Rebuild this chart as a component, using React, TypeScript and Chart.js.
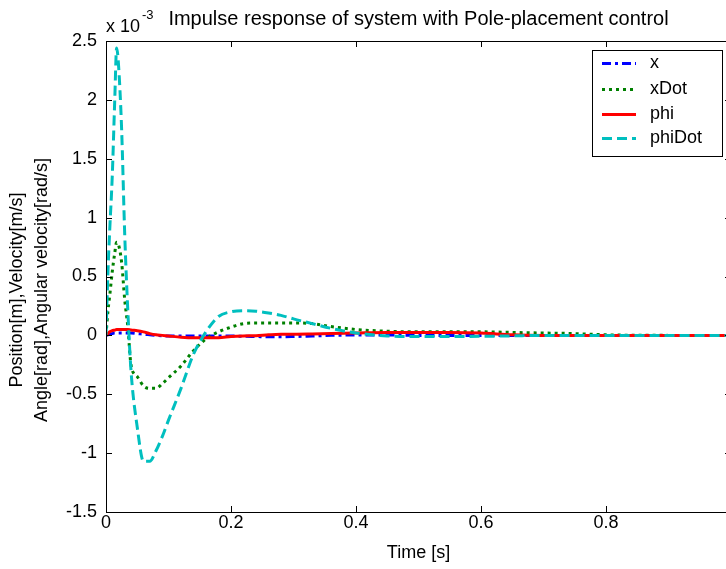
import { useEffect, useRef } from "react";
import { Chart, registerables } from "chart.js";

Chart.register(...registerables);

const FONT = "'Liberation Sans', Arial, Helvetica, sans-serif";

// time samples [s]
const time = [
  0, 0.003, 0.006, 0.01, 0.014, 0.017, 0.02, 0.025, 0.03, 0.035,
  0.04, 0.05, 0.06, 0.07, 0.08, 0.09, 0.1, 0.12, 0.14, 0.16,
  0.18, 0.2, 0.22, 0.24, 0.26, 0.28, 0.3, 0.33, 0.36, 0.4,
  0.45, 0.5, 0.55, 0.6, 0.65, 0.7, 0.75, 0.8, 0.9, 1.0,
];

// values in units of 1e-3
const xVals = [
  0, 0.005, 0.01, 0.015, 0.02, 0.02, 0.02, 0.02, 0.02, 0.02,
  0.02, 0.015, 0.01, 0.005, 0, -0.003, -0.005, -0.005, -0.005, -0.005,
  -0.005, -0.005, -0.008, -0.01, -0.012, -0.012, -0.01, -0.005, 0, 0.003,
  0.003, 0, -0.002, -0.002, 0, 0, 0, 0, 0, 0,
];

const xDotVals = [
  0, 0.2, 0.34, 0.54, 0.7, 0.79, 0.77, 0.62, 0.3, 0.07,
  -0.25, -0.35, -0.43, -0.45, -0.45, -0.41, -0.36, -0.26, -0.13, -0.03,
  0.03, 0.07, 0.1, 0.105, 0.105, 0.105, 0.105, 0.1, 0.075, 0.05,
  0.035, 0.03, 0.03, 0.03, 0.025, 0.02, 0.015, 0.005, 0, 0,
];

const phiVals = [
  0, 0.015, 0.03, 0.04, 0.045, 0.05, 0.05, 0.05, 0.05, 0.05,
  0.045, 0.04, 0.03, 0.015, 0.005, 0, -0.005, -0.015, -0.02, -0.02,
  -0.02, -0.01, -0.005, -0.003, 0.005, 0.01, 0.01, 0.012, 0.015, 0.02,
  0.025, 0.025, 0.025, 0.02, 0.005, 0, 0, 0, 0, 0,
];

const phiDotVals = [
  0, 0.52, 0.9, 1.35, 2.0, 2.44, 2.3, 1.75, 0.85, 0.2,
  -0.3, -0.78, -1.07, -1.07, -0.98, -0.86, -0.72, -0.45, -0.16, 0.03,
  0.16, 0.2, 0.21, 0.205, 0.19, 0.17, 0.14, 0.1, 0.06, 0.02,
  -0.005, -0.01, -0.01, -0.008, -0.004, 0, 0, 0, 0, 0,
];

const seriesNames = ["x", "xDot", "phi", "phiDot"];
const seriesColors = ["#0000ff", "#008000", "#ff0000", "#00bfbf"];

const xTickValues = [0, 0.2, 0.4, 0.6, 0.8, 1];
const xTickLabels = ["0", "0.2", "0.4", "0.6", "0.8", ""];
const yTickValues = [-1.5, -1, -0.5, 0, 0.5, 1, 1.5, 2, 2.5];
const yTickLabels = ["-1.5", "-1", "-0.5", "0", "0.5", "1", "1.5", "2", "2.5"];

const titleText = "Impulse response of system with Pole-placement control";
const xAxisTitle = "Time [s]";
const yAxisTitle = ["Position[m],Velocity[m/s]", "Angle[rad],Angular velocity[rad/s]"];
const exponentBase = "x 10";
const exponentPower = "-3";

const toPoints = (vals: number[]) => vals.map((v, i) => ({ x: time[i], y: v }));

const framePlugin = {
  id: "matlabFrame",
  afterDraw(chart: any) {
    const { ctx, chartArea, scales } = chart;
    const { left, right, top, bottom } = chartArea;
    ctx.save();
    // axes box
    ctx.strokeStyle = "#000";
    ctx.lineWidth = 1;
    ctx.beginPath();
    ctx.moveTo(left + 0.5, top + 0.5);
    ctx.lineTo(right + 0.5, top + 0.5);
    ctx.lineTo(right + 0.5, bottom + 0.5);
    ctx.lineTo(left + 0.5, bottom + 0.5);
    ctx.closePath();
    ctx.stroke();
    // inward tick marks
    const tl = 6;
    ctx.beginPath();
    for (const v of yTickValues) {
      const p = Math.round(scales.y.getPixelForValue(v)) + 0.5;
      ctx.moveTo(left, p);
      ctx.lineTo(left + tl, p);
      ctx.moveTo(right, p);
      ctx.lineTo(right - tl, p);
    }
    for (const v of xTickValues) {
      const p = Math.round(scales.x.getPixelForValue(v)) + 0.5;
      ctx.moveTo(p, bottom);
      ctx.lineTo(p, bottom - tl);
      ctx.moveTo(p, top);
      ctx.lineTo(p, top + tl);
    }
    ctx.stroke();

    // texts
    ctx.fillStyle = "#000";
    const cx = (left + right) / 2;
    ctx.font = `20px ${FONT}`;
    ctx.textAlign = "center";
    ctx.textBaseline = "middle";
    ctx.fillText(titleText, cx, 19);

    ctx.font = `18px ${FONT}`;
    ctx.textAlign = "left";
    ctx.textBaseline = "alphabetic";
    ctx.fillText(exponentBase, 106, 32);
    const w = ctx.measureText(exponentBase).width;
    ctx.font = `13px ${FONT}`;
    ctx.fillText(exponentPower, 106 + w + 2, 19);

    ctx.font = `18px ${FONT}`;
    ctx.textAlign = "center";
    ctx.textBaseline = "middle";
    ctx.fillText(xAxisTitle, cx, 553);

    ctx.save();
    ctx.translate(17, 290);
    ctx.rotate(-Math.PI / 2);
    ctx.fillText(yAxisTitle[0], 0, 0);
    ctx.restore();
    ctx.save();
    ctx.translate(42, 290);
    ctx.rotate(-Math.PI / 2);
    ctx.fillText(yAxisTitle[1], 0, 0);
    ctx.restore();

    // legend box
    const lx = 592, ly = 50, lw = 130, lh = 106;
    ctx.fillStyle = "#fff";
    ctx.fillRect(lx, ly, lw, lh);
    ctx.strokeStyle = "#000";
    ctx.lineWidth = 1;
    ctx.strokeRect(lx + 0.5, ly + 0.5, lw, lh);
    const rowY = [63, 89, 114, 138];
    chart.data.datasets.forEach((ds: any, i: number) => {
      const y = rowY[i] + 0.5;
      ctx.strokeStyle = ds.borderColor;
      ctx.lineWidth = 3;
      ctx.setLineDash(ds.borderDash || []);
      ctx.beginPath();
      ctx.moveTo(602, y);
      ctx.lineTo(636, y);
      ctx.stroke();
      ctx.setLineDash([]);
      ctx.fillStyle = "#000";
      ctx.font = `18px ${FONT}`;
      ctx.textAlign = "left";
      ctx.textBaseline = "middle";
      ctx.fillText(ds.label, 650, rowY[i]);
    });
    ctx.restore();
  },
};

export default function App() {
  const ref = useRef<HTMLCanvasElement>(null);
  useEffect(() => {
    if (!ref.current) return;
    const chart = new Chart(ref.current, {
      type: "line",
      data: {
        datasets: [
          { label: seriesNames[0], data: toPoints(xVals), borderColor: seriesColors[0], borderDash: [9, 4, 3, 4], order: 3 },
          { label: seriesNames[1], data: toPoints(xDotVals), borderColor: seriesColors[1], borderDash: [3, 4], order: 2 },
          { label: seriesNames[2], data: toPoints(phiVals), borderColor: seriesColors[2], borderDash: [], order: 1 },
          { label: seriesNames[3], data: toPoints(phiDotVals), borderColor: seriesColors[3], borderDash: [10, 5], order: 0 },
        ].map((d) => ({
          ...d,
          borderWidth: 3,
          pointRadius: 0,
          fill: false,
          cubicInterpolationMode: "monotone" as const,
        })),
      },
      options: {
        animation: false,
        responsive: false,
        devicePixelRatio: 1,
        layout: { padding: { left: 0, right: 9, top: 41, bottom: 0 } },
        plugins: {
          legend: { display: false },
          tooltip: { enabled: false },
          title: { display: false },
        },
        scales: {
          x: {
            type: "linear",
            min: 0,
            max: 1,
            grid: { display: false, drawTicks: false },
            border: { display: false },
            afterBuildTicks: (s: any) => {
              s.ticks = xTickValues.map((v) => ({ value: v }));
            },
            afterFit: (s: any) => {
              s.height = 57;
            },
            ticks: {
              autoSkip: false,
              maxRotation: 0,
              padding: 0,
              color: "#000",
              font: { family: FONT, size: 18 },
              callback: (_v: any, i: number) => xTickLabels[i],
            },
          },
          y: {
            type: "linear",
            min: -1.5,
            max: 2.5,
            grid: { display: false, drawTicks: false },
            border: { display: false },
            afterBuildTicks: (s: any) => {
              s.ticks = yTickValues.map((v) => ({ value: v }));
            },
            afterFit: (s: any) => {
              s.width = 106;
            },
            ticks: {
              autoSkip: false,
              padding: 9,
              color: "#000",
              font: { family: FONT, size: 18 },
              callback: (_v: any, i: number) => yTickLabels[i],
            },
          },
        },
      },
      plugins: [framePlugin],
    });
    return () => chart.destroy();
  }, []);

  return (
    <div style={{ position: "absolute", left: 0, top: 0, width: 726, height: 569, overflow: "hidden", background: "#fff" }}>
      <canvas ref={ref} width={740} height={569} style={{ width: 740, height: 569, display: "block" }} />
    </div>
  );
}
